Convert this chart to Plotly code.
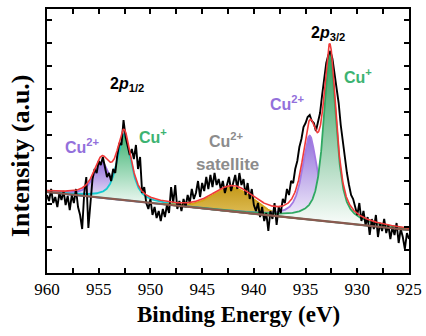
import numpy as np
import plotly.graph_objects as go

# ---------------- data ----------------
# raw spectrum (arbitrary intensity units), binding energy 960 -> 925 eV, 0.2 eV step
raw_intensity = [
    78, 72, 84, 70, 76, 66, 80, 73, 82, 68, 77, 63, 78, 70, 84, 66, 58, 44, 80, 96,
    45, 72, 94, 104, 100, 112, 108, 116, 104, 96, 100, 92, 104, 100, 118, 130, 128, 153, 136, 128,
    118, 124, 114, 128, 104, 116, 80, 86, 70, 64, 74, 58, 66, 55, 62, 52, 64, 56, 68, 60,
    86, 70, 88, 64, 72, 62, 74, 66, 78, 70, 84, 74, 80, 92, 76, 90, 82, 96, 84, 98,
    86, 100, 88, 94, 84, 92, 80, 88, 96, 82, 90, 98, 84, 100, 88, 94, 78, 90, 74, 84,
    68, 62, 70, 56, 66, 52, 60, 42, 62, 54, 70, 48, 66, 60, 74, 70, 84, 78, 92, 90,
    104, 112, 126, 134, 146, 150, 156, 158, 152, 150, 142, 150, 160, 178, 196, 210, 218, 222, 214, 200,
    184, 170, 148, 132, 112, 100, 88, 78, 74, 66, 58, 70, 52, 62, 48, 56, 38, 54, 44, 58,
    36, 50, 42, 54, 40, 48, 34, 46, 38, 50, 30, 44, 36, 24, 40, 34,
]
energy = np.linspace(960.0, 925.0, len(raw_intensity))

# linear background end points (intensity at 960 eV and at 925 eV)
bg_energy = [960.0, 925.0]
bg_intensity = [81.0, 43.0]

# fitted components: name, centre (eV), height, FWHM (eV), Lorentzian fraction
comp_names = ["Cu2+ 2p1/2", "Cu+ 2p1/2", "Cu2+ satellite", "Cu2+ 2p3/2", "Cu+ 2p3/2"]
comp_center = [954.7, 952.55, 942.0, 934.6, 932.65]
comp_height = [36.0, 66.0, 24.0, 84.0, 167.0]
comp_fwhm = [1.9, 1.6, 4.6, 1.7, 1.45]
comp_eta = [0.7, 0.7, 0.1, 0.75, 0.75]
comp_line = ["#9A6FE0", "#12C9D0", "#D4A418", "#A47BE3", "#2FA862"]
comp_fill = ["#9370DB", "#3CB371", "#C59A1C", "#9370DB", "#2E9E5A"]

# ---------------- model curves ----------------
Ef = np.linspace(960.0, 925.0, 1401)
bg = np.interp(Ef, bg_energy[::-1], bg_intensity[::-1])


def pvoigt(E, c, A, w, eta):
    L = 1.0 / (1.0 + ((E - c) / (w / 2.0)) ** 2)
    G = np.exp(-4.0 * np.log(2.0) * ((E - c) / w) ** 2)
    return A * (eta * L + (1.0 - eta) * G)


comps = [pvoigt(Ef, c, A, w, e) for c, A, w, e in zip(comp_center, comp_height, comp_fwhm, comp_eta)]
envelope = bg + np.sum(comps, axis=0)

fig = go.Figure()

for name, comp, lc, fc in zip(comp_names, comps, comp_line, comp_fill):
    mask = comp > 0.3
    xs = Ef[mask]
    top = (comp + bg)[mask]
    bot = bg[mask]
    if name == "Cu2+ satellite":
        scale = [[0, "#E2C25E"], [1, fc]]
    else:
        scale = [[0, "#FFFFFF"], [1, fc]]
    fig.add_trace(go.Scatter(
        x=np.concatenate([xs, xs[::-1]]),
        y=np.concatenate([top, bot[::-1]]),
        mode="lines", fill="toself",
        line=dict(color=lc, width=1.8),
        fillgradient=dict(type="vertical", colorscale=scale),
        hoverinfo="skip", showlegend=False,
    ))

fig.add_trace(go.Scatter(x=energy, y=raw_intensity, mode="lines",
                         line=dict(color="black", width=1.9), showlegend=False))
fig.add_trace(go.Scatter(x=Ef, y=bg, mode="lines",
                         line=dict(color="#8B5A50", width=2.2), showlegend=False))
fig.add_trace(go.Scatter(x=Ef, y=envelope, mode="lines",
                         line=dict(color="#F03A3A", width=1.6), showlegend=False))

W, H = 426, 336
ml, mr, mt, mb = 47, 17, 9, 63


def px_to_paper(px, py):
    return (px - ml) / (W - ml - mr), 1 - (py - mt) / (H - mt - mb)


ann = []


def add_text(text, px, py, size, color, family="Arial, Liberation Sans", angle=0):
    x, y = px_to_paper(px, py)
    ann.append(dict(text=text, x=x, y=y, xref="paper", yref="paper", showarrow=False,
                    font=dict(size=size, color=color, family=family), textangle=angle,
                    xanchor="center", yanchor="middle"))


SERIF = "Liberation Serif"
add_text("<b>2<i>p</i><sub>1/2</sub></b>", 127, 84, 16, "black")
add_text("<b>2<i>p</i><sub>3/2</sub></b>", 328, 33, 16, "black")
add_text("<b>Cu<sup>2+</sup></b>", 82, 146, 16, "#9370DB")
add_text("<b>Cu<sup>+</sup></b>", 153, 136, 16, "#3CB371")
add_text("<b>Cu<sup>2+</sup></b>", 287, 103, 16, "#9370DB")
add_text("<b>Cu<sup>+</sup></b>", 358, 76, 16, "#3CB371")
add_text("<b>Cu<sup>2+</sup></b>", 226, 140, 16, "#8C8C8C")
add_text("<b>satellite</b>", 227, 164, 17, "#8C8C8C")
add_text("<b>Binding Energy (eV)</b>", 238, 314, 23, "black", family=SERIF)
add_text("<b>Intensity (a.u.)</b>", 20, 156, 26, "black", family=SERIF, angle=-90)

tick_style = dict(ticks="inside", ticklen=5, tickwidth=1.5, tickcolor="black")
fig.update_layout(
    width=W, height=H,
    font=dict(family=SERIF, size=17, color="black"),
    margin=dict(l=ml, r=mr, t=mt, b=mb, autoexpand=False),
    plot_bgcolor="white", paper_bgcolor="white",
    annotations=ann,
    xaxis=dict(range=[960, 925], tick0=960, dtick=5, automargin=False,
               minor=dict(dtick=2.5, **tick_style),
               showline=True, linewidth=2, linecolor="black", mirror="allticks",
               showgrid=False, zeroline=False,
               tickfont=dict(family=SERIF, size=17, color="black"), **tick_style),
    yaxis=dict(range=[0, 264], tick0=0, dtick=23, showticklabels=False, automargin=False,
               showline=True, linewidth=2, linecolor="black", mirror="allticks",
               showgrid=False, zeroline=False, **tick_style),
)

fig.write_html("out.html", config={"displayModeBar": False},
               post_script="document.body.style.margin='0';")
